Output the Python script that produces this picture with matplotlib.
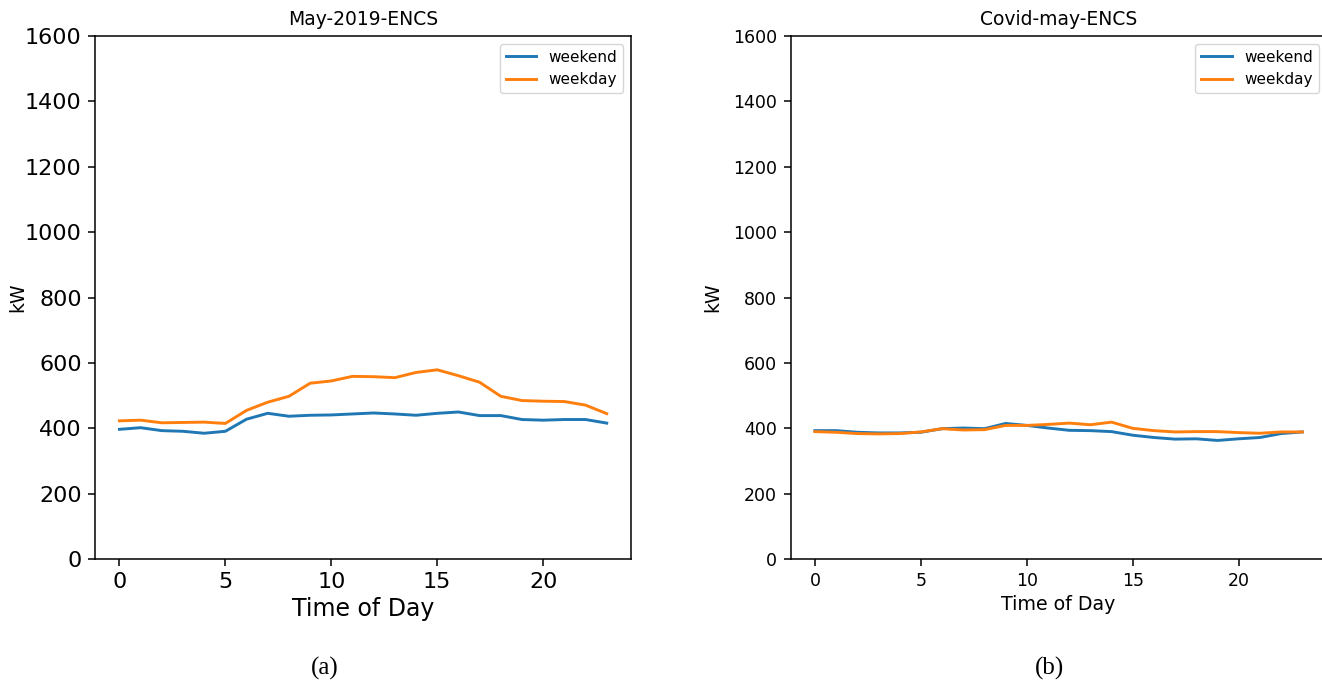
import matplotlib.pyplot as plt

hours = list(range(24))

# May 2019, ENCS building
may2019_weekend = [397, 402, 393, 391, 385, 391, 428, 446, 437, 440, 441, 444,
                   447, 444, 440, 446, 450, 439, 439, 427, 425, 427, 427, 416]
may2019_weekday = [423, 425, 417, 418, 419, 415, 455, 480, 498, 538, 545, 559,
                   558, 555, 571, 579, 561, 541, 498, 485, 483, 482, 471, 445]

# May 2020 (covid), ENCS building
covid_weekend = [393, 393, 388, 386, 386, 388, 399, 401, 399, 415, 409, 401,
                 394, 393, 390, 379, 372, 367, 368, 363, 368, 372, 384, 389]
covid_weekday = [390, 388, 384, 383, 384, 389, 399, 395, 396, 409, 409, 412,
                 416, 411, 419, 400, 393, 389, 390, 390, 387, 385, 389, 389]

fig = plt.figure(figsize=(13.22, 6.92), dpi=100)


def make_panel(rect, weekend, weekday, title, tick_size, xlabel_size, ylabel_pad):
    ax = fig.add_axes(rect)
    ax.plot(hours, weekend, color='#1f77b4', lw=2.1, label='weekend')
    ax.plot(hours, weekday, color='#ff7f0e', lw=2.1, label='weekday')
    ax.set_ylim(0, 1600)
    ax.set_xticks([0, 5, 10, 15, 20])
    ax.set_title(title, fontsize=13.5, pad=8)
    ax.set_xlabel('Time of Day', fontsize=xlabel_size, labelpad=3)
    ax.set_ylabel('kW', fontsize=13.5, labelpad=ylabel_pad)
    ax.tick_params(labelsize=tick_size, length=4.8, width=1.1, pad=4.8)
    for sp in ax.spines.values():
        sp.set_linewidth(1.1)
    ax.legend(loc='upper right', fontsize=11, handlelength=2.0)
    return ax


make_panel([0.0719, 0.192, 0.4055, 0.756], may2019_weekend, may2019_weekday,
           'May-2019-ENCS', 16, 17, -2)
make_panel([0.598, 0.192, 0.4055, 0.756], covid_weekend, covid_weekday,
           'Covid-may-ENCS', 12.5, 13.7, 7.5)

fig.text(325 / 1322, 1 - 668 / 692, '(a)', family='Liberation Serif',
         fontsize=18, ha='center', va='center')
fig.text(1050 / 1322, 1 - 668 / 692, '(b)', family='Liberation Serif',
         fontsize=18, ha='center', va='center')

fig.savefig('out.png', dpi=100)
